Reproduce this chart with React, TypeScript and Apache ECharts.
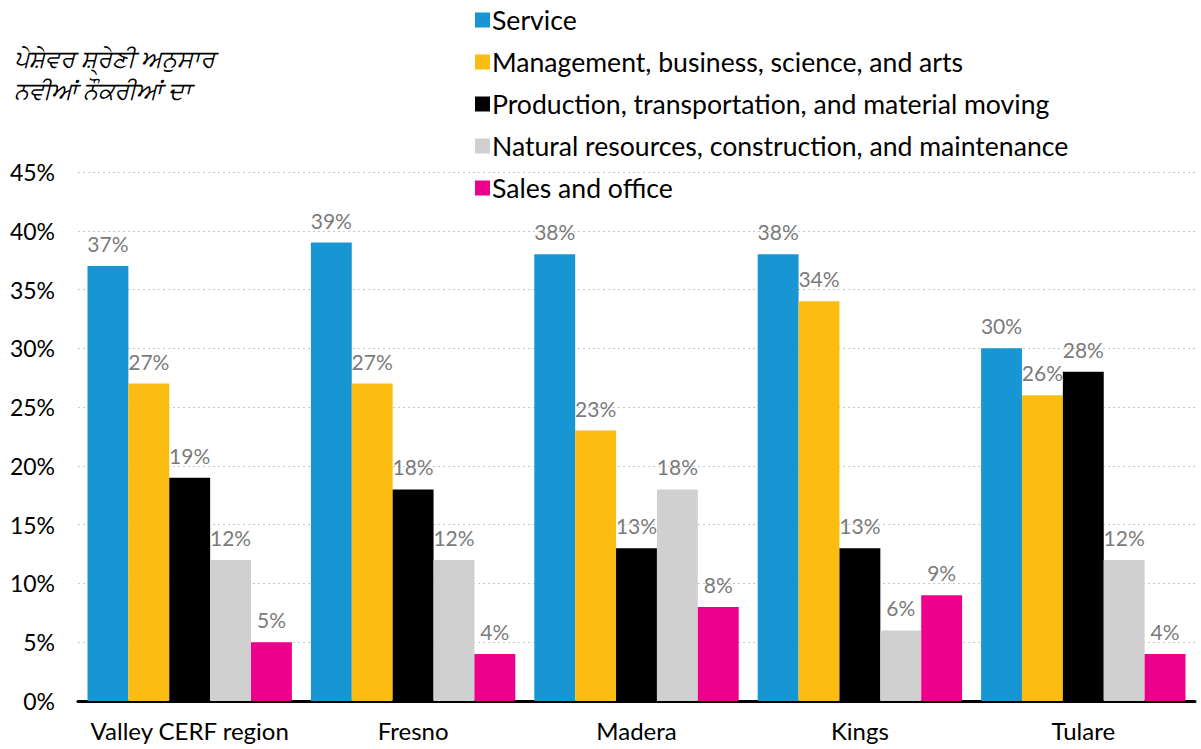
import React, { useEffect, useRef } from "react";
import * as echarts from "echarts";

const categories = ["Valley CERF region", "Fresno", "Madera", "Kings", "Tulare"];
const seriesNames = [
  "Service",
  "Management, business, science, and arts",
  "Production, transportation, and material moving",
  "Natural resources, construction, and maintenance",
  "Sales and office",
];
const service = [37, 39, 38, 38, 30];
const management = [27, 27, 23, 34, 26];
const production = [19, 18, 13, 13, 28];
const natural = [12, 12, 18, 6, 12];
const sales = [5, 4, 8, 9, 4];
const colors = ["#1896d3", "#fcbd13", "#000000", "#d0d0d0", "#ec008c"];
const titleLines = ["ਪੇਸ਼ੇਵਰ ਸ਼੍ਰੇਣੀ ਅਨੁਸਾਰ", "ਨਵੀਆਂ ਨੌਕਰੀਆਂ ਦਾ"];

const FONT = "Lato, 'Noto Sans', sans-serif";

export default function App() {
  const ref = useRef<HTMLDivElement>(null);
  useEffect(() => {
    if (!ref.current) return;
    const chart = echarts.init(ref.current, undefined, { renderer: "svg" });
    const values = [service, management, production, natural, sales];
    chart.setOption({
      animation: false,
      backgroundColor: "#ffffff",
      textStyle: { fontFamily: FONT },
      graphic: [
        {
          type: "text",
          left: 14,
          top: 41,
          style: {
            text: titleLines.join("\n"),
            font: "italic 24px 'Noto Sans', Lato, sans-serif",
            lineHeight: 32,
            fill: "#000",
          },
        },
      ],
      legend: {
        orient: "vertical",
        left: 470,
        top: 1,
        icon: "rect",
        itemWidth: 15,
        itemHeight: 15,
        itemGap: 14,
        textStyle: { fontSize: 26.6, lineHeight: 28, color: "#000", fontFamily: FONT, padding: [0, 0, 0, -3] },
        data: seriesNames,
      },
      grid: { left: 78, right: 6, top: 172, bottom: 48, containLabel: false },
      xAxis: {
        type: "category",
        data: categories,
        axisLine: { lineStyle: { color: "#000", width: 3 } },
        axisTick: { show: false },
        axisLabel: { fontSize: 24, color: "#000", margin: 17, interval: 0, fontFamily: FONT },
      },
      yAxis: {
        type: "value",
        min: 0,
        max: 45,
        interval: 5,
        axisLine: { show: false },
        axisTick: { show: false },
        axisLabel: { fontSize: 23, color: "#000", margin: 23, formatter: "{value}%", fontFamily: FONT },
        splitLine: { lineStyle: { type: [2, 3], color: "#c8c8c8", width: 1 } },
      },
      series: seriesNames.map((name, i) => ({
        name,
        type: "bar",
        data: values[i],
        barGap: "0%",
        barCategoryGap: "8.5%",
        itemStyle: { color: colors[i] },
        label: {
          show: true,
          position: "top",
          distance: 12,
          formatter: "{c}%",
          fontSize: 21,
          color: "#7b7b7b",
          fontFamily: FONT,
        },
      })),
    });
    return () => chart.dispose();
  }, []);
  return (
    <div
      ref={ref}
      style={{ position: "absolute", left: 0, top: 0, width: 1201, height: 749 }}
    />
  );
}
